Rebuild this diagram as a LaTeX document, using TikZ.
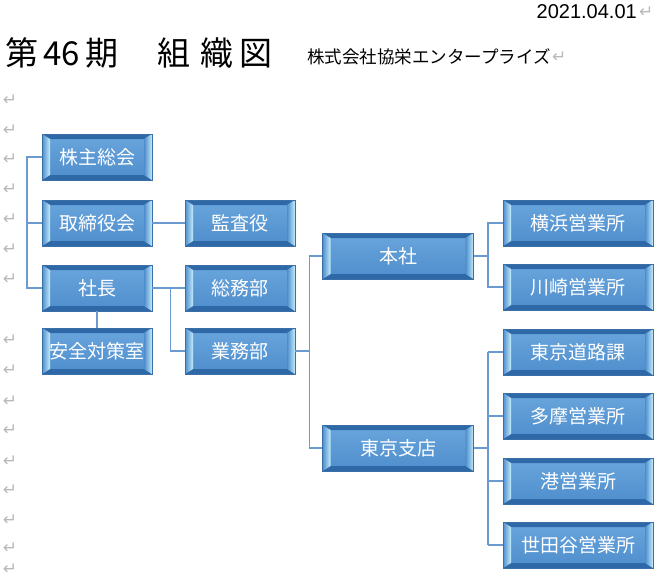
\documentclass[tikz,border=0pt]{standalone}
\usepackage{fontspec}
\setmainfont{Liberation Sans}
\newfontfamily\jpfont{Noto Sans CJK JP}
\newfontfamily\symfont{DejaVu Sans}
\usetikzlibrary{positioning,calc}
\definecolor{boxblue}{HTML}{4E8DCC}
\definecolor{boxlite}{HTML}{6AA6DD}
\definecolor{boxedge}{HTML}{3A6FA8}
\definecolor{bevtop}{HTML}{86BCE8}
\definecolor{bevbot}{HTML}{2F68A6}
\definecolor{bevlite}{HTML}{C4ECFB}
\definecolor{connblue}{HTML}{6A9AD0}
\tikzset{
  orgbox/.style={rectangle,minimum width=110pt,minimum height=46pt,inner sep=0pt,
    top color=boxlite,bottom color=boxblue,draw=boxedge,line width=0.6pt,
    text=white,font=\jpfont\fontsize{19}{22}\selectfont,
    path picture={
      \path let \p1=(path picture bounding box.south west),
                \p2=(path picture bounding box.north east) in
        [fill=bevtop] (\x1,\y2) -- (\x2,\y2) -- (\x2-8pt,\y2-5pt) -- (\x1+8pt,\y2-5pt) -- cycle
        [fill=bevbot] (\x1,\y1) -- (\x2,\y1) -- (\x2-8pt,\y1+5pt) -- (\x1+8pt,\y1+5pt) -- cycle;
      \shade let \p1=(path picture bounding box.south west),
                 \p2=(path picture bounding box.north east) in
        [left color=boxblue,right color=bevlite]
        (\x1,\y1) -- (\x1+8pt,\y1+5pt) -- (\x1+8pt,\y2-5pt) -- (\x1,\y2) -- cycle;
      \shade let \p1=(path picture bounding box.south west),
                 \p2=(path picture bounding box.north east) in
        [left color=boxblue,right color=bevlite]
        (\x2,\y1) -- (\x2-8pt,\y1+5pt) -- (\x2-8pt,\y2-5pt) -- (\x2,\y2) -- cycle;
    }},
  widebox/.style={orgbox,minimum width=151pt},
  branchbox/.style={orgbox,minimum width=150pt},
  conn/.style={draw=connblue,line width=1.6pt},
  retmark/.style={text=gray!55,font=\symfont\fontsize{17}{18}\selectfont,inner sep=0pt}
}

\begin{document}
\begin{tikzpicture}[x=1pt,y=-1pt]
  \useasboundingbox (0,0) rectangle (664,579);
  % heading
  \node[anchor=east,font=\fontsize{20}{22}\selectfont,inner sep=0pt] (date) at (637,12) {2021.04.01};
  \node[retmark,right=2pt of date] (retdate) {↵};
  \node[anchor=west,font=\jpfont\fontsize{33}{36}\selectfont,inner sep=0pt] (ki) at (5,53) {第\,46\,期};
  \node[anchor=west,font=\jpfont\fontsize{33}{36}\selectfont,inner sep=0pt] (zu) at (157,53) {組\hspace{10pt}織\hspace{6pt}図};
  \node[anchor=west,font=\jpfont\fontsize{17.5}{20}\selectfont,inner sep=0pt] (company) at (307,57) {株式会社協栄エンタープライズ};
  \node[retmark,right=1pt of company] (retco) {↵};
  \foreach \y [count=\i] in {100,130,159,189,219,249,279,340,370,401,430,461,490,520,548,569}
    \node[retmark] (ret\i) at (10,\y) {↵};
  % boxes
  \node[orgbox] (kabunushi) at (97,157) {株主総会};
  \node[orgbox] (torishimari) at (97,223) {取締役会};
  \node[orgbox] (shacho) at (97,288) {社長};
  \node[orgbox] (anzen) at (97,351) {安全対策室};
  \node[orgbox] (kansa) at (240,223) {監査役};
  \node[orgbox] (somu) at (240,288) {総務部};
  \node[orgbox] (gyomu) at (240,351) {業務部};
  \node[widebox] (honsha) at (398,256) {本社};
  \node[widebox] (tokyo) at (398,448) {東京支店};
  \node[branchbox] (yokohama) at (578,223) {横浜営業所};
  \node[branchbox] (kawasaki) at (578,287) {川崎営業所};
  \node[branchbox] (doro) at (578,352) {東京道路課};
  \node[branchbox] (tama) at (578,416) {多摩営業所};
  \node[branchbox] (minato) at (578,481) {港営業所};
  \node[branchbox] (setagaya) at (578,545) {世田谷営業所};
  % connectors
  \draw[conn] (kabunushi.west) -- ++(-15,0) coordinate (lj) |- (shacho.west);
  \draw[conn] (torishimari.west) -- (lj |- torishimari.west);
  \draw[conn] (torishimari.east) -- (kansa.west);
  \draw[conn] (shacho.south) -- (anzen.north);
  \draw[conn] (shacho.east) -- (somu.west);
  \draw[conn] (shacho.east) -- ++(18,0) |- (gyomu.west);
  \draw[conn] (gyomu.east) -- ++(14,0) coordinate (gj) |- (honsha.west);
  \draw[conn] (gj) |- (tokyo.west);
  \draw[conn] (honsha.east) -- ++(14,0) coordinate (hj) |- (yokohama.west);
  \draw[conn] (hj) |- (kawasaki.west);
  \draw[conn] (tokyo.east) -- ++(14,0) coordinate (tj);
  \foreach \b in {doro,tama,minato,setagaya}
    \draw[conn] (tj |- doro.west) -- (tj |- setagaya.west) (tj |- \b.west) -- (\b.west);
\end{tikzpicture}
\end{document}
